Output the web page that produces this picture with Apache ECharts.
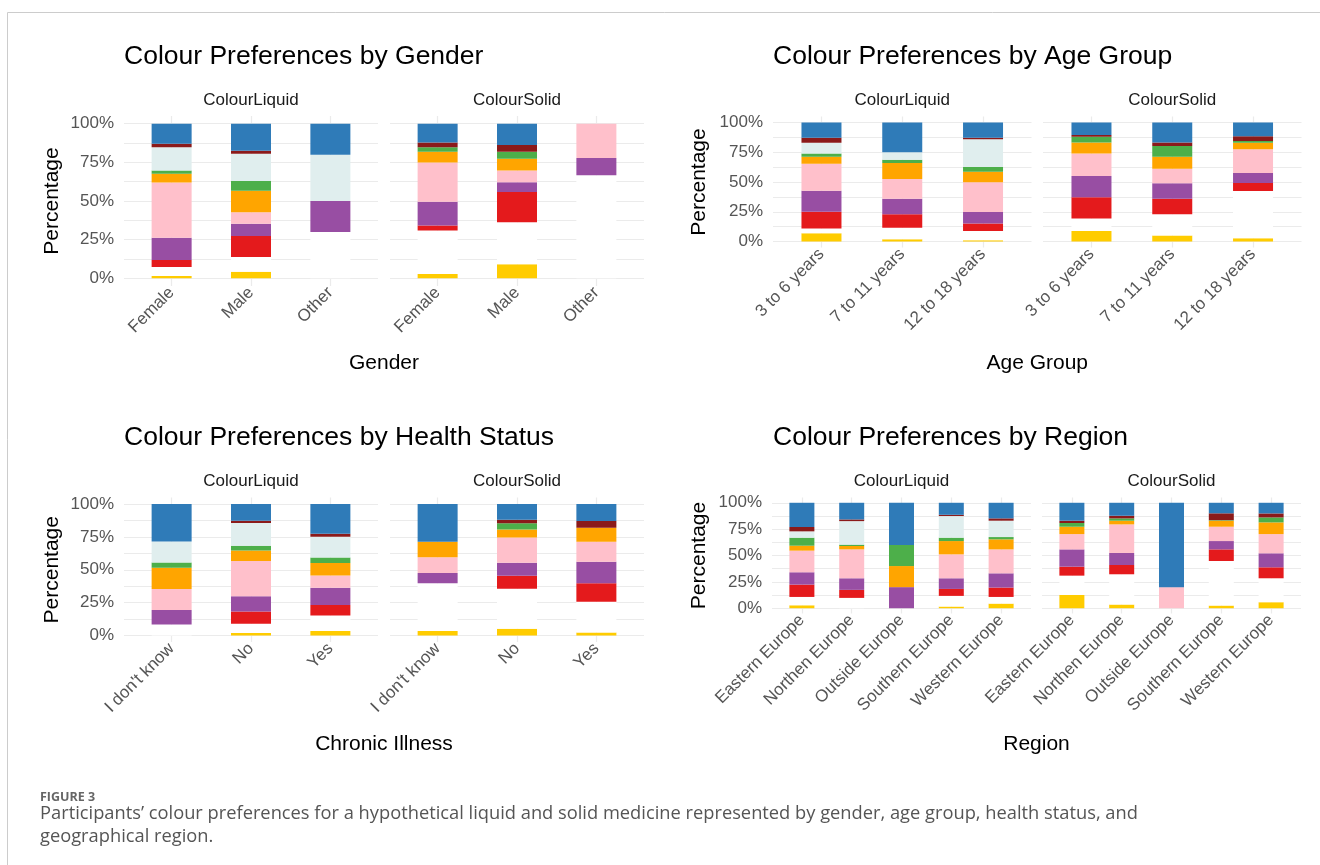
<!DOCTYPE html>
<html>
<head>
<meta charset="utf-8">
<script src="https://cdn.jsdelivr.net/npm/echarts@6/dist/echarts.min.js"></script>
<style>html,body{margin:0;background:#fff}#chart{width:1320px;height:865px}</style>
</head>
<body>
<div id="chart"></div>
<script>
// stack order, bottom to top
const colourNames = ['Yellow', 'White', 'Red', 'Purple', 'Pink', 'Orange', 'Green', 'Clear', 'Brown', 'Blue'];
const colourHex = ['#ffcc00', '#ffffff', '#e41a1c', '#984ea3', '#ffc0cb', '#ffa500', '#4daf4a', '#e0eeee', '#8b1a1a', '#2f7bb8'];

const genderCats = ['Female', 'Male', 'Other'];
const genderLiquid = [
    [1.5, 5.8, 4.6, 14.4, 35.7, 5.6, 2.2, 14.9, 2.3, 13.0],
    [4.3, 9.5, 13.6, 7.8, 7.6, 13.8, 6.3, 17.7, 1.9, 17.5],
    [0, 30, 0, 20, 0, 0, 0, 30, 0, 20]
];
const genderSolid = [
    [2.8, 28.1, 3.2, 15.4, 25.4, 7.0, 2.8, 0, 3.2, 12.1],
    [9.1, 27.2, 19.6, 6.3, 7.6, 7.5, 4.6, 0, 4.3, 13.8],
    [0, 66.7, 0, 11.1, 22.2, 0, 0, 0, 0, 0]
];

const ageCats = ['3 to 6 years', '7 to 11 years', '12 to 18 years'];
const ageLiquid = [
    [7.0, 3.9, 14.2, 17.6, 22.7, 5.8, 2.8, 9.0, 4.2, 12.8],
    [2.0, 9.5, 11.4, 13.1, 16.5, 13.4, 2.8, 6.2, 0, 25.1],
    [1.1, 7.8, 6.2, 9.8, 24.8, 9.0, 3.9, 23.2, 1.4, 12.8]
];
const ageSolid = [
    [8.9, 10.4, 17.9, 17.8, 19.0, 9.2, 4.8, 0, 1.4, 10.6],
    [5.0, 17.9, 13.1, 12.9, 12.3, 10.0, 9.0, 0, 3.0, 16.8],
    [2.8, 39.7, 6.7, 8.3, 19.9, 5.6, 1.4, 0, 4.1, 11.5]
];

const healthCats = ["I don't know", 'No', 'Yes'];
const healthLiquid = [
    [0, 8.4, 0, 10.9, 16.0, 16.2, 4.1, 16.0, 0, 28.4],
    [1.8, 7.1, 9.4, 11.6, 26.7, 8.1, 3.6, 17.2, 1.8, 12.7],
    [3.3, 11.9, 7.9, 13.2, 9.4, 9.4, 4.3, 15.7, 2.3, 22.6]
];
const healthSolid = [
    [3.3, 36.5, 0, 7.7, 12.1, 11.7, 0, 0, 0, 28.7],
    [5.1, 30.4, 9.9, 9.9, 19.3, 6.0, 4.8, 0, 2.7, 11.9],
    [2.3, 23.3, 14.2, 16.3, 15.2, 10.7, 0, 0, 5.1, 12.9]
];

const regionCats = ['Eastern Europe', 'Northen Europe', 'Outside Europe', 'Southern Europe', 'Western Europe'];
const regionLiquid = [
    [2.8, 7.9, 11.7, 11.7, 20.5, 4.7, 7.6, 6.0, 4.1, 23.0],
    [0, 9.8, 7.6, 11.0, 27.4, 3.2, 1.3, 22.3, 1.6, 15.8],
    [0, 0, 0, 20, 0, 20, 20, 0, 0, 40],
    [1.6, 10.1, 6.6, 10.1, 22.7, 12.6, 3.2, 20.5, 1.2, 11.4],
    [4.4, 6.3, 8.9, 13.5, 22.7, 9.5, 2.2, 15.5, 2.2, 14.8]
];
const regionSolid = [
    [12.6, 18.3, 8.5, 16.4, 14.5, 7.0, 3.5, 0, 2.2, 17.0],
    [3.5, 28.7, 8.8, 11.4, 27.1, 3.5, 2.2, 0, 2.5, 12.3],
    [0, 0, 0, 0, 20, 0, 0, 0, 0, 80],
    [2.5, 42.3, 11.0, 7.9, 13.6, 5.7, 0.5, 0, 6.5, 10.0],
    [5.7, 22.7, 10.4, 13.3, 18.2, 11.1, 4.7, 0, 3.8, 10.1]
];

const yLabels = [0, 25, 50, 75, 100];
const yGrid = [0, 12.5, 25, 37.5, 50, 62.5, 75, 87.5, 100];
const facetNames = ['ColourLiquid', 'ColourSolid'];

// layout of the four panels
const panels = [
    { title: 'Colour Preferences by Gender', xName: 'Gender', cats: genderCats, data: [genderLiquid, genderSolid],
      left: [124, 390], width: 254, top: 116, height: 170, bar: 40, titleX: 124, titleY: 57, stripY: 100, nameY: 363, yNameX: 52 },
    { title: 'Colour Preferences by Age Group', xName: 'Age Group', cats: ageCats, data: [ageLiquid, ageSolid],
      left: [773, 1043], width: 258.5, top: 116.5, height: 131, bar: 40, titleX: 773, titleY: 57, stripY: 100, nameY: 363, yNameX: 699 },
    { title: 'Colour Preferences by Health Status', xName: 'Chronic Illness', cats: healthCats, data: [healthLiquid, healthSolid],
      left: [124, 390], width: 254, top: 497.5, height: 144.5, bar: 40, titleX: 124, titleY: 438, stripY: 481, nameY: 744, yNameX: 52 },
    { title: 'Colour Preferences by Region', xName: 'Region', cats: regionCats, data: [regionLiquid, regionSolid],
      left: [772, 1042], width: 259, top: 497.5, height: 116, bar: 25, titleX: 773, titleY: 438, stripY: 481, nameY: 744, yNameX: 699 }
];

const FONT = 'Liberation Sans, Arial, sans-serif';
const grid = [], xAxis = [], yAxis = [], series = [], graphic = [];

panels.forEach(function (p) {
    graphic.push({ type: 'text', x: p.titleX, y: p.titleY, silent: true,
        style: { text: p.title, font: '26.5px ' + FONT, fill: '#000', align: 'left', verticalAlign: 'middle' } });
    const mid = (p.left[0] + p.left[1] + p.width) / 2;
    graphic.push({ type: 'text', x: mid, y: p.nameY, silent: true,
        style: { text: p.xName, font: '21px ' + FONT, fill: '#000', align: 'center', verticalAlign: 'middle' } });
    graphic.push({ type: 'text', x: p.yNameX, y: p.top + p.height / 2, rotation: Math.PI / 2, silent: true,
        style: { text: 'Percentage', font: '21px ' + FONT, fill: '#000', align: 'center', verticalAlign: 'middle' } });

    const n = p.cats.length;
    // panel spans categories 0.4 .. n + 0.6
    const unit = p.width / (n + 0.2);
    const ticks = p.cats.map(function (c, i) { return i + 1; });
    p.data.forEach(function (rows, f) {
        // background grid: panel area with gridlines and y labels
        const g = grid.length;
        grid.push({ left: p.left[f], top: p.top, width: p.width, height: p.height, outerBoundsMode: 'none' });
        xAxis.push({
            type: 'value', gridIndex: g, min: 0.4, max: n + 0.6,
            axisLine: { show: false },
            axisTick: { show: false, customValues: ticks },
            axisLabel: { show: false },
            splitLine: { show: true, lineStyle: { color: '#ebebeb', width: 1.2 } }
        });
        yAxis.push({
            type: 'value', gridIndex: g, min: -5, max: 105,
            axisLine: { show: false },
            axisTick: { show: false, customValues: yGrid },
            splitLine: { show: true, lineStyle: { color: '#ebebeb', width: 1.2 } },
            axisLabel: {
                show: f === 0, customValues: yLabels, margin: 10, fontSize: 17, fontFamily: FONT, color: '#555',
                formatter: function (v) { return v + '%'; }
            }
        });
        // bar grid: one band per category
        const b = grid.length;
        grid.push({ left: p.left[f] + 0.1 * unit, top: p.top, width: n * unit, height: p.height, outerBoundsMode: 'none' });
        xAxis.push({
            type: 'category', gridIndex: b, data: p.cats,
            axisLine: { show: false }, axisTick: { show: false }, splitLine: { show: false },
            axisLabel: { interval: 0, rotate: 45, margin: 4, fontSize: 17, fontFamily: FONT, color: '#555' }
        });
        yAxis.push({
            type: 'value', gridIndex: b, min: -5, max: 105,
            axisLine: { show: false }, axisTick: { show: false }, axisLabel: { show: false }, splitLine: { show: false }
        });
        graphic.push({ type: 'text', x: p.left[f] + p.width / 2, y: p.stripY, silent: true,
            style: { text: facetNames[f], font: '17px ' + FONT, fill: '#1a1a1a', align: 'center', verticalAlign: 'middle' } });
        colourNames.forEach(function (name, c) {
            series.push({
                type: 'bar', name: name, xAxisIndex: b, yAxisIndex: b, stack: 'facet' + b,
                barWidth: p.bar, silent: true,
                itemStyle: { color: colourHex[c] },
                data: rows.map(function (r) { return r[c]; })
            });
        });
    });
});

// frame and caption
graphic.push({ type: 'rect', silent: true, shape: { x: 7.5, y: 12.5, width: 1400, height: 900 },
    style: { fill: 'none', stroke: '#cccccc', lineWidth: 1 } });
graphic.push({ type: 'text', x: 40, y: 797, silent: true,
    style: { text: 'FIGURE 3', font: 'bold 12.5px "Open Sans", sans-serif', fill: '#666', align: 'left', verticalAlign: 'middle' } });
graphic.push({ type: 'text', x: 40, y: 814, silent: true,
    style: { text: 'Participants\u2019 colour preferences for a hypothetical liquid and solid medicine represented by gender, age group, health status, and',
        font: '18.3px "Open Sans", sans-serif', fill: '#555', align: 'left', verticalAlign: 'middle' } });
graphic.push({ type: 'text', x: 40, y: 837, silent: true,
    style: { text: 'geographical region.', font: '18.3px "Open Sans", sans-serif', fill: '#555', align: 'left', verticalAlign: 'middle' } });

const myChart = echarts.init(document.getElementById('chart'));
myChart.setOption({
    animation: false,
    backgroundColor: '#fff',
    grid: grid,
    xAxis: xAxis,
    yAxis: yAxis,
    series: series,
    graphic: graphic
});
</script>
</body>
</html>
